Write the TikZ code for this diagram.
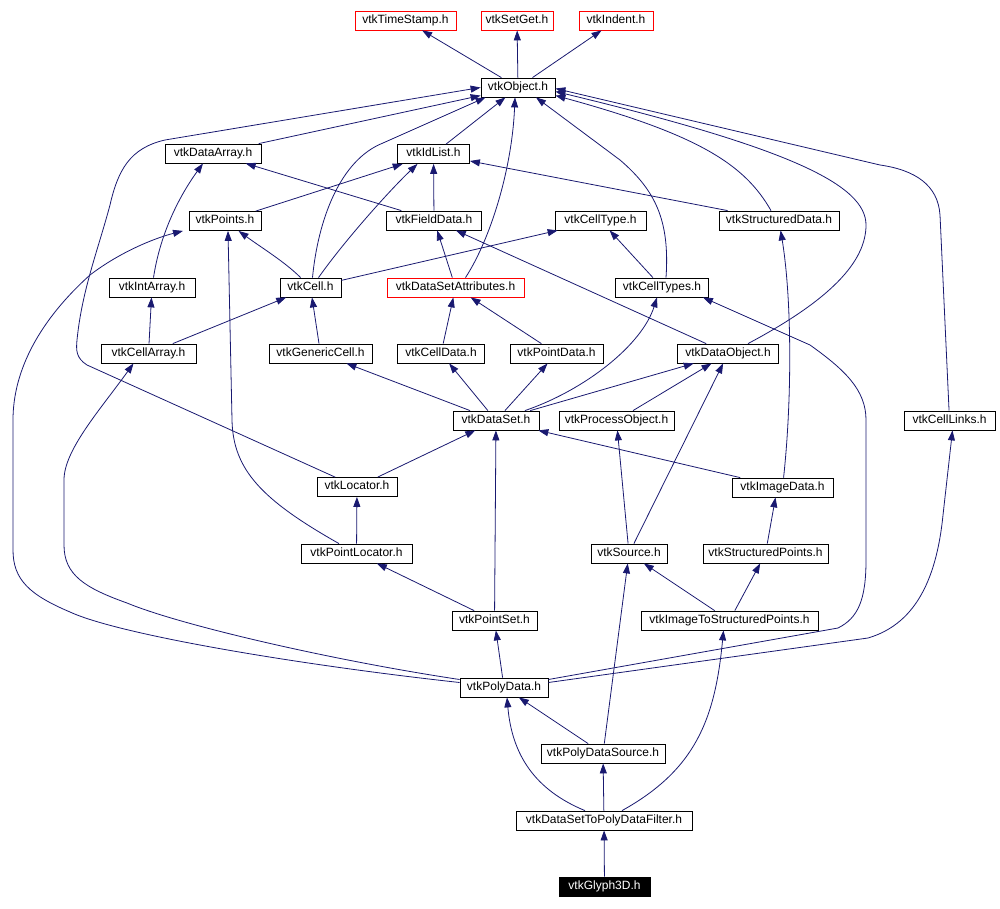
\documentclass[tikz,border=0pt]{standalone}
\usepackage{fontspec}
\setmainfont{Liberation Sans}
\usetikzlibrary{arrows.meta}
\definecolor{edgeblue}{HTML}{191970}

\begin{document}
\begin{tikzpicture}[x=1pt, y=-1pt,
    hdr/.style={draw=black, line width=0.8pt, fill=white, inner sep=0pt,
        minimum height=19pt, text height=8.5pt, text depth=3pt,
        font=\fontsize{12}{14}\selectfont},
    extern/.style={hdr, draw=red},
    current/.style={hdr, fill=black, text=white},
    inc/.style={draw=edgeblue, line width=0.8pt,
        -{Triangle[length=10pt, width=7pt]}}]

    \useasboundingbox (0,0) rectangle (1000,909);

    % Headers, row by row
    \node[extern, minimum width=101pt] (ts) at (405.5,20.5) {vtkTimeStamp.h};
    \node[extern, minimum width=72pt] (sg) at (517,20.5) {vtkSetGet.h};
    \node[extern, minimum width=74pt] (ind) at (616,20.5) {vtkIndent.h};

    \node[hdr, minimum width=74pt] (obj) at (518,87.5) {vtkObject.h};

    \node[hdr, minimum width=96pt] (da) at (213,153.5) {vtkDataArray.h};
    \node[hdr, minimum width=72pt] (idl) at (433.5,154) {vtkIdList.h};

    \node[hdr, minimum width=72pt] (pts) at (225,221) {vtkPoints.h};
    \node[hdr, minimum width=95pt] (fd) at (434,220.5) {vtkFieldData.h};
    \node[hdr, minimum width=91pt] (ct) at (600.5,220.5) {vtkCellType.h};
    \node[hdr, minimum width=120pt] (sd) at (779,220.5) {vtkStructuredData.h};

    \node[hdr, minimum width=86pt] (ia) at (152,287.5) {vtkIntArray.h};
    \node[hdr, minimum width=61pt] (cell) at (310.5,287.5) {vtkCell.h};
    \node[extern, minimum width=137pt] (dsa) at (455.5,287.5) {vtkDataSetAttributes.h};
    \node[hdr, minimum width=93pt] (cts) at (662,287.5) {vtkCellTypes.h};

    \node[hdr, minimum width=95pt] (ca) at (148.5,353.5) {vtkCellArray.h};
    \node[hdr, minimum width=103pt] (gc) at (320.5,353.5) {vtkGenericCell.h};
    \node[hdr, minimum width=87pt] (cd) at (441,353.5) {vtkCellData.h};
    \node[hdr, minimum width=93pt] (pd) at (556.5,353.5) {vtkPointData.h};
    \node[hdr, minimum width=101pt] (dob) at (728,353.5) {vtkDataObject.h};

    \node[hdr, minimum width=86pt] (ds) at (496,420.5) {vtkDataSet.h};
    \node[hdr, minimum width=115pt] (po) at (616.5,420.5) {vtkProcessObject.h};
    \node[hdr, minimum width=91pt] (cl) at (949.5,420.5) {vtkCellLinks.h};

    \node[hdr, minimum width=80pt] (loc) at (357,487) {vtkLocator.h};
    \node[hdr, minimum width=101pt] (imd) at (782.5,487.5) {vtkImageData.h};

    \node[hdr, minimum width=111pt] (pl) at (356.5,553.5) {vtkPointLocator.h};
    \node[hdr, minimum width=76pt] (src) at (629,553.5) {vtkSource.h};
    \node[hdr, minimum width=125pt] (sp) at (765.5,553.5) {vtkStructuredPoints.h};

    \node[hdr, minimum width=85pt] (ps) at (494.5,620.5) {vtkPointSet.h};
    \node[hdr, minimum width=177pt] (itsp) at (729.5,620.5) {vtkImageToStructuredPoints.h};

    \node[hdr, minimum width=88pt] (poly) at (504,687.5) {vtkPolyData.h};
    \node[hdr, minimum width=124pt] (pds) at (603,753.5) {vtkPolyDataSource.h};
    \node[hdr, minimum width=176pt] (dsf) at (604,820.5) {vtkDataSetToPolyDataFilter.h};
    \node[current, minimum width=91pt] (gly) at (604.5,886.5) {vtkGlyph3D.h};

    % vtkObject.h and what it includes
    \draw[inc] (obj) -- (ts);
    \draw[inc] (obj) -- (sg);
    \draw[inc] (obj) -- (ind);

    % Into vtkObject.h
    \draw[inc] (da) -- (obj);
    \draw[inc] (idl) -- (obj);
    \draw[inc] ([xshift=2pt]cell.north) .. controls (318,220) and (340,160)
        .. (383,143) -- ([xshift=5pt]obj.south west);
    \draw[inc] ([xshift=10pt]dsa.north) .. controls (490,240) and (512,170)
        .. ([xshift=-3pt]obj.south);
    \draw[inc] ([xshift=4pt]cts.north) .. controls (670,220) and (655,190)
        .. (620,160) -- ([xshift=18pt]obj.south);
    \draw[inc] ([xshift=-8pt]sd.north) .. controls (745,165) and (700,135)
        .. ([yshift=-8pt]obj.east);
    \draw[inc] ([xshift=20pt]dob.north) .. controls (830,300) and (866,262)
        .. (866,225) .. controls (866,185) and (790,148) .. ([yshift=-4pt]obj.east);
    \draw[inc] (cl) -- (940,215) .. controls (938,185) and (915,170)
        .. (880,165) -- ([yshift=-1pt]obj.east);
    \draw[inc] (loc) -- (87,365) .. controls (76,358) and (76,350) .. (77,340)
        .. controls (82,290) and (98,250) .. (110,205)
        .. controls (118,170) and (130,148) .. (165,140) -- (obj.west);

    % Second and third rows
    \draw[inc] (fd) -- (da);
    \draw[inc] (fd) -- (idl);
    \draw[inc] (pts) -- (idl);
    \draw[inc] (sd) -- (idl);
    \draw[inc] ([xshift=8pt]cell.north) .. controls (345,240) and (390,190)
        .. ([xshift=-16pt]idl.south);
    \draw[inc] (ia) .. controls (160,235) and (178,198) .. ([xshift=-10pt]da.south);
    \draw[inc] (cell) .. controls (285,262) and (262,248) .. (pts);
    \draw[inc] (cell) -- (ct);
    \draw[inc] (dsa) -- (fd);
    \draw[inc] (dob) -- (fd);
    \draw[inc] (cts) -- (ct);

    % Cells and attributes
    \draw[inc] (ca) -- (ia);
    \draw[inc] (ca) -- (cell);
    \draw[inc] (gc) -- (cell);
    \draw[inc] (cd) -- (dsa);
    \draw[inc] (pd) -- (dsa);

    % vtkDataSet.h
    \draw[inc] (ds) -- (gc);
    \draw[inc] (ds) -- (cd);
    \draw[inc] (ds) -- (pd);
    \draw[inc] (ds) .. controls (585,390) and (642,345) .. ([xshift=-5pt]cts.south);
    \draw[inc] (ds) -- (dob);
    \draw[inc] (po) -- (dob);

    % Locators, sources, image data
    \draw[inc] (loc) -- (ds);
    \draw[inc] (imd) -- (ds);
    \draw[inc] (imd) .. controls (792,400) and (792,300) .. (sd);
    \draw[inc] (pl) -- (loc);
    \draw[inc] (pl) .. controls (262,500) and (233,470) .. (232,420)
        -- ([xshift=3pt]pts.south);
    \draw[inc] (src) -- (po);
    \draw[inc] (src) -- (dob);
    \draw[inc] (sp) -- ([xshift=-7pt]imd.south);
    \draw[inc] (ps) -- (pl);
    \draw[inc] (ps) -- (ds);
    \draw[inc] (itsp) -- (src);
    \draw[inc] (itsp) -- (sp);

    % vtkPolyData.h
    \draw[inc] (poly) -- (ps);
    \draw[inc] ([yshift=5pt]poly.west) .. controls (300,665) and (120,635)
        .. (70,612) .. controls (30,595) and (13,580) .. (13,550) -- (13,420)
        .. controls (13,370) and (40,320) .. (90,275)
        .. controls (120,252) and (155,238) .. ([xshift=-42pt]pts.south);
    \draw[inc] ([yshift=8pt]poly.west) .. controls (330,660) and (180,625)
        .. (127,603) .. controls (85,588) and (64,575) .. (64,545) -- (64,480)
        .. controls (64,450) and (100,410) .. ([xshift=-15pt]ca.south);
    \draw[inc] ([yshift=8pt]poly.east) -- (838,628) .. controls (858,618) and (866,600)
        .. (866,560) -- (866,420) .. controls (866,390) and (845,370)
        .. (810,345) -- ([xshift=-6pt]cts.south east);
    \draw[inc] ([yshift=5pt]poly.east) -- (868,638) .. controls (912,625) and (936,585)
        .. (943,515) -- ([xshift=3pt]cl.south);

    % Bottom of the graph
    \draw[inc] (pds) -- (poly);
    \draw[inc] (pds) -- (src);
    \draw[inc] ([xshift=-19pt]dsf.north) .. controls (535,790) and (512,755)
        .. ([xshift=3pt]poly.south);
    \draw[inc] (dsf) -- (pds);
    \draw[inc] ([xshift=18pt]dsf.north) .. controls (695,770) and (715,720)
        .. ([xshift=-6pt]itsp.south);
    \draw[inc] (gly) -- (dsf);

\end{tikzpicture}
\end{document}
